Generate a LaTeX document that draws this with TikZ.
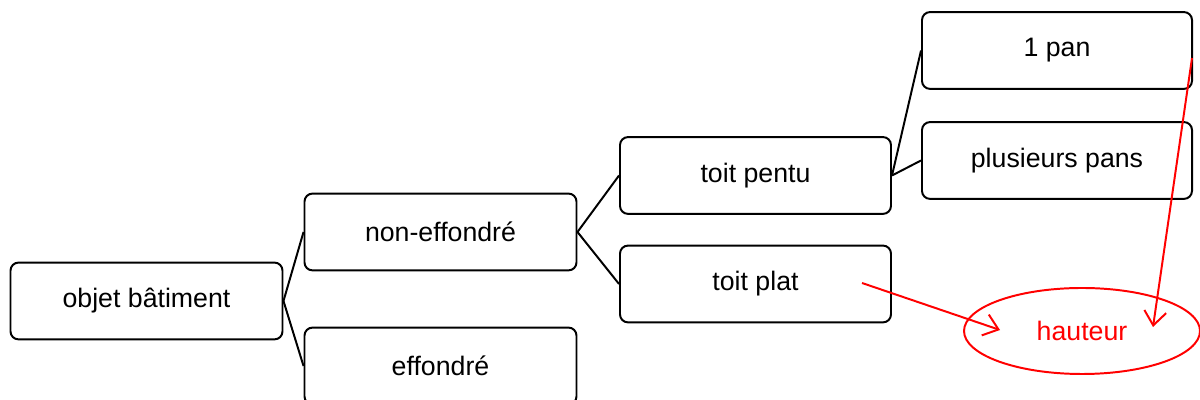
\documentclass[tikz,border=0pt]{standalone}
\usepackage{fontspec}
\setmainfont{Liberation Sans}
\usetikzlibrary{arrows.meta,positioning,shapes.geometric}

\begin{document}
\begin{tikzpicture}[every node/.style={font=\fontsize{19}{23}\selectfont},
  classe/.style={draw,line width=1.4pt,rounded corners=0.2cm,minimum width=6.8cm,minimum height=1.92cm,inner sep=0pt},
  lien/.style={line width=1.4pt},
  fleche/.style={red,line width=1.4pt,-{Straight Barb[length=3.5mm,width=5.5mm,line width=1.4pt]}}]
\useasboundingbox (0,0) rectangle (30,10);
\node[classe] (obj) at (3.6625,2.475) {objet bâtiment};
\node[classe] (noneff) at (11.0125,4.2) {non-effondré};
\node[classe] (eff) at (11.0125,0.85) {effondré};
\node[classe,minimum width=6.775cm] (pentu) at (18.8875,5.6125) {toit pentu};
\node[classe,minimum width=6.775cm] (plat) at (18.8875,2.9) {toit plat};
\node[classe,minimum width=6.75cm] (unpan) at (26.425,8.7375) {1 pan};
\node[classe,minimum width=6.75cm] (pans) at (26.425,5.9875) {plusieurs pans};
\node[draw=red,text=red,line width=1.4pt,ellipse,minimum width=5.9cm,minimum height=2.15cm,inner sep=0pt] (haut) at (27.05,1.725) {hauteur};
\draw[lien] (obj.east)--(noneff.west);
\draw[lien] (obj.east)--(eff.west);
\draw[lien] (noneff.east)--(pentu.west);
\draw[lien] (noneff.east)--(plat.west);
\draw[lien] (pentu.east)--(unpan.west);
\draw[lien] (pentu.east)--(pans.west);
% fleches rouges
\coordinate (d1) at (21.55,2.925);
\coordinate (f1) at (25.0,1.75);
\coordinate (d2) at (29.8,8.55);
\coordinate (f2) at (28.825,1.825);
\draw[fleche] (d1)--(f1);
\draw[fleche] (d2)--(f2);
\end{tikzpicture}
\end{document}
